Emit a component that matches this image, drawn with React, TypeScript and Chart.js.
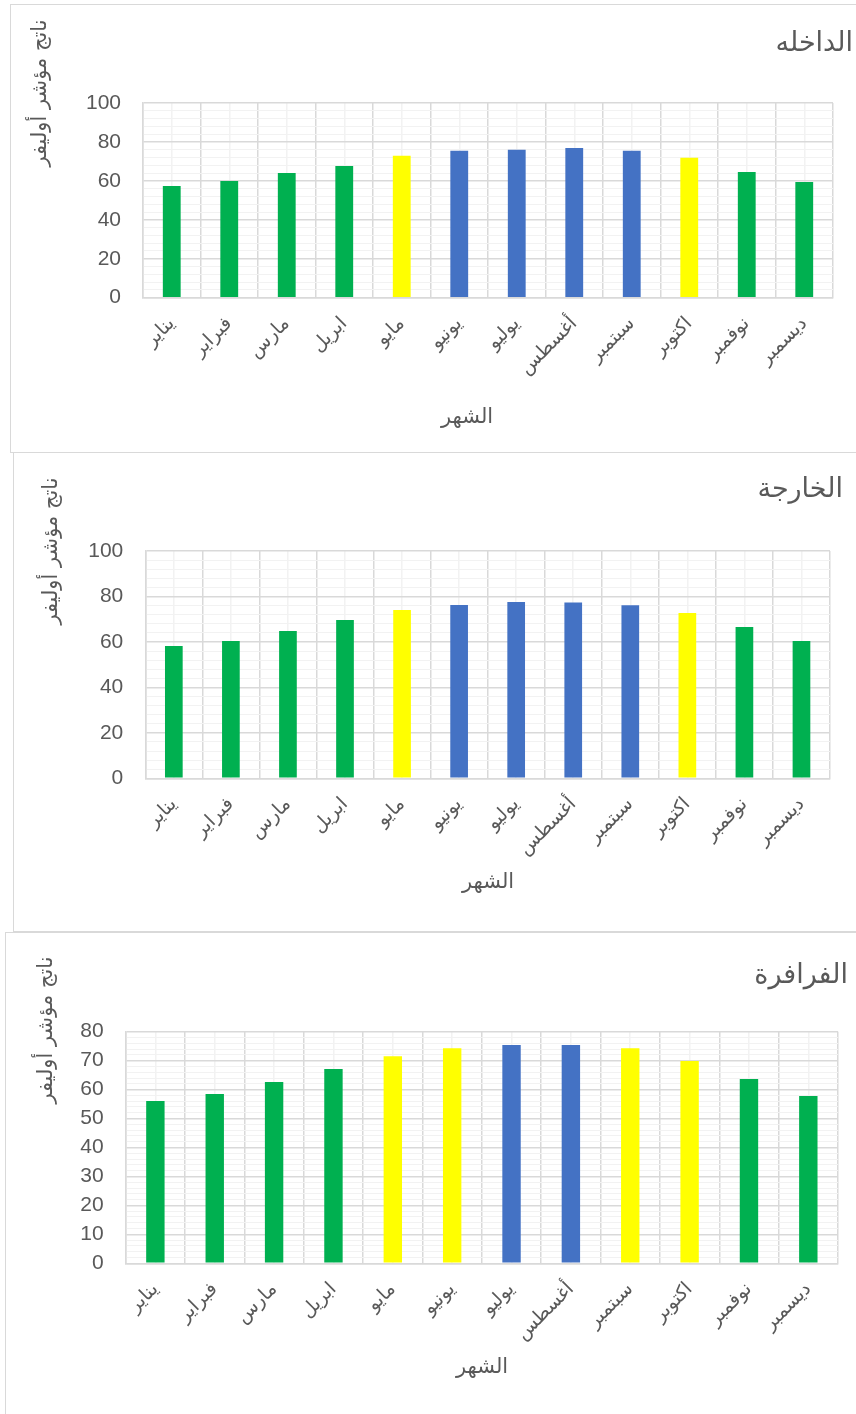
import React, { useEffect, useRef } from 'react';
import { Chart, registerables } from 'chart.js';

Chart.register(...registerables);

// ---------- data ----------
const MONTHS = ['يناير', 'فبراير', 'مارس', 'ابريل', 'مايو', 'يونيو', 'يوليو', 'أغسطس', 'سبتمبر', 'اكتوبر', 'نوفمبر', 'ديسمبر'];

const DAKHLA_VALUES = [57.4, 59.9, 64.0, 67.6, 72.9, 75.5, 76.0, 76.9, 75.5, 71.9, 64.6, 59.4];
const KHARGA_VALUES = [58.2, 60.4, 64.8, 69.6, 74.0, 76.2, 77.6, 77.3, 76.1, 72.7, 66.6, 60.4];
const FARAFRA_VALUES = [56.1, 58.5, 62.6, 67.1, 71.5, 74.3, 75.4, 75.4, 74.3, 69.9, 63.7, 57.8];

const DAKHLA_CLASSES = ['g', 'g', 'g', 'g', 'y', 'b', 'b', 'b', 'b', 'y', 'g', 'g'];
const KHARGA_CLASSES = ['g', 'g', 'g', 'g', 'y', 'b', 'b', 'b', 'b', 'y', 'g', 'g'];
const FARAFRA_CLASSES = ['g', 'g', 'g', 'g', 'y', 'y', 'b', 'b', 'y', 'y', 'g', 'g'];

const CHART_TITLES = ['الداخله', 'الخارجة', 'الفرافرة'];
const Y_AXIS_TITLE = 'ناتج مؤشر أوليفر';
const X_AXIS_TITLE = 'الشهر';

const Y_MAX = [100, 100, 80];
const Y_MAJOR_STEP = [20, 20, 10];
const Y_MINOR_STEP = [4, 4, 2];

// ---------- styles ----------
const CLASS_COLORS: Record<string, string> = { g: '#00B050', y: '#FFFF00', b: '#4472C4' };
const TEXT_COLOR = '#595959';
const MAJOR_GRID = '#D9D9D9';
const MINOR_GRID = '#F2F2F2';
const NUM_FONT = '"Liberation Sans", Arial, sans-serif';
const AR_FONT = '"DejaVu Sans", "Liberation Sans", sans-serif';

type TextItem = { text: string; x: number; y: number; size: number; align: CanvasTextAlign; rot?: number };

type Layout = {
  box: { left: number; top: number; width: number; height: number };
  pad: { left: number; top: number; right: number; bottom: number };
  yWidth: number;
  xHeight: number;
  texts: TextItem[];
};

function makeTextPlugin(items: TextItem[]) {
  return {
    id: 'freeTexts',
    afterDraw(chart: any) {
      const ctx = chart.ctx as CanvasRenderingContext2D;
      for (const t of items) {
        ctx.save();
        ctx.translate(t.x, t.y);
        ctx.rotate(t.rot || 0);
        ctx.font = `${t.size}px ${AR_FONT}`;
        ctx.fillStyle = TEXT_COLOR;
        ctx.textAlign = t.align;
        ctx.textBaseline = 'middle';
        ctx.fillText(t.text, 0, 0);
        ctx.restore();
      }
    },
  };
}

function BarPanel({ values, classes, idx, layout }: { values: number[]; classes: string[]; idx: number; layout: Layout }) {
  const ref = useRef<HTMLCanvasElement | null>(null);
  const cw = layout.box.width - 2;
  const ch = layout.box.height - 2;

  useEffect(() => {
    if (!ref.current) return;
    const major = Y_MAJOR_STEP[idx];
    const chart = new Chart(ref.current, {
      type: 'bar',
      data: {
        labels: MONTHS,
        datasets: [
          {
            data: values,
            backgroundColor: classes.map((c) => CLASS_COLORS[c]),
            borderWidth: 0,
            barPercentage: 0.31,
            categoryPercentage: 1,
          },
        ],
      },
      options: {
        animation: false,
        responsive: false,
        devicePixelRatio: 1,
        layout: { padding: layout.pad, autoPadding: false } as any,
        plugins: { legend: { display: false }, tooltip: { enabled: false }, title: { display: false } },
        scales: {
          x2: {
            type: 'category',
            position: 'bottom',
            offset: true,
            grid: { offset: false, color: MINOR_GRID, lineWidth: 1.5, drawTicks: false },
            border: { display: false },
            ticks: { display: false },
            afterFit: (s: any) => {
              s.height = 0;
            },
          },
          x: {
            type: 'category',
            offset: true,
            grid: { offset: true, color: MAJOR_GRID, lineWidth: 1.5, drawTicks: false },
            border: { color: MAJOR_GRID, width: 1.5 },
            ticks: {
              autoSkip: false,
              minRotation: 45,
              maxRotation: 45,
              padding: 15,
              color: TEXT_COLOR,
              font: { family: AR_FONT, size: 19 },
            },
            afterFit: (s: any) => {
              s.height = layout.xHeight;
            },
          },
          y: {
            type: 'linear',
            min: 0,
            max: Y_MAX[idx],
            grid: {
              drawTicks: false,
              color: (c: any) => (c.tick && c.tick.value % major === 0 ? MAJOR_GRID : MINOR_GRID),
              lineWidth: (c: any) => (c.tick && c.tick.value % major === 0 ? 1.5 : 1),
            },
            border: { color: MAJOR_GRID, width: 1.5 },
            ticks: {
              stepSize: Y_MINOR_STEP[idx],
              autoSkip: false,
              maxTicksLimit: 200,
              padding: 22,
              color: TEXT_COLOR,
              font: { family: NUM_FONT, size: 21 },
              callback: (v: any) => (Number(v) % major === 0 ? String(v) : ''),
            },
            afterFit: (s: any) => {
              s.width = layout.yWidth;
            },
          },
        },
      } as any,
      plugins: [makeTextPlugin(layout.texts)],
    });
    return () => chart.destroy();
  }, []);

  return (
    <div
      style={{
        position: 'absolute',
        left: layout.box.left,
        top: layout.box.top,
        width: layout.box.width,
        height: layout.box.height,
        boxSizing: 'border-box',
        border: `1px solid ${MAJOR_GRID}`,
        background: '#fff',
      }}
    >
      <canvas ref={ref} width={cw} height={ch} style={{ display: 'block', width: cw, height: ch }} />
    </div>
  );
}

const LAYOUTS: Layout[] = [
  {
    box: { left: 10, top: 4, width: 850, height: 449 },
    pad: { left: 72, top: 98, right: 26, bottom: 54.3 },
    yWidth: 60,
    xHeight: 100,
    texts: [
      { text: CHART_TITLES[0], x: 842, y: 39, size: 27, align: 'right' },
      { text: Y_AXIS_TITLE, x: 30, y: 88, size: 21, align: 'center', rot: -Math.PI / 2 },
      { text: X_AXIS_TITLE, x: 456, y: 413, size: 21, align: 'center' },
    ],
  },
  {
    box: { left: 13, top: 452, width: 850, height: 480 },
    pad: { left: 71.3, top: 98, right: 32, bottom: 52.7 },
    yWidth: 60,
    xHeight: 100,
    texts: [
      { text: CHART_TITLES[1], x: 829, y: 37, size: 27, align: 'right' },
      { text: Y_AXIS_TITLE, x: 38, y: 98, size: 21, align: 'center', rot: -Math.PI / 2 },
      { text: X_AXIS_TITLE, x: 474, y: 430, size: 21, align: 'center' },
    ],
  },
  {
    box: { left: 5, top: 932, width: 860, height: 490 },
    pad: { left: 59.7, top: 98.7, right: 26, bottom: 57.7 },
    yWidth: 60,
    xHeight: 100,
    texts: [
      { text: CHART_TITLES[2], x: 842, y: 43, size: 27, align: 'right' },
      { text: Y_AXIS_TITLE, x: 41, y: 97, size: 21, align: 'center', rot: -Math.PI / 2 },
      { text: X_AXIS_TITLE, x: 476, y: 435, size: 21, align: 'center' },
    ],
  },
];

export default function App() {
  return (
    <div style={{ position: 'absolute', left: 0, top: 0, width: 856, height: 1414, overflow: 'hidden', background: '#fff' }}>
      <BarPanel values={DAKHLA_VALUES} classes={DAKHLA_CLASSES} idx={0} layout={LAYOUTS[0]} />
      <BarPanel values={KHARGA_VALUES} classes={KHARGA_CLASSES} idx={1} layout={LAYOUTS[1]} />
      <BarPanel values={FARAFRA_VALUES} classes={FARAFRA_CLASSES} idx={2} layout={LAYOUTS[2]} />
    </div>
  );
}
